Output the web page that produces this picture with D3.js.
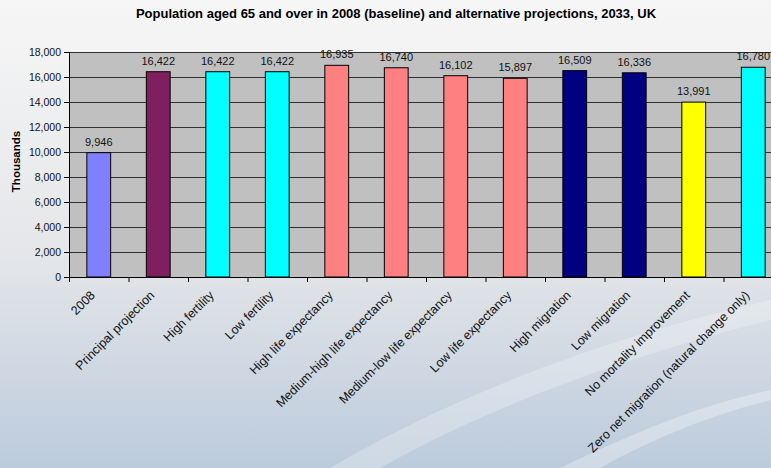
<!DOCTYPE html>
<html>
<head>
<meta charset="utf-8">
<script src="https://cdn.jsdelivr.net/npm/d3@7"></script>
<style>
  html, body { margin: 0; padding: 0; overflow: hidden; }
  svg { display: block; font-family: "Liberation Sans", Arial, sans-serif; }
</style>
</head>
<body>
<svg id="chart" width="771" height="468"></svg>
<script>
const categories = ["2008", "Principal projection", "High fertility", "Low fertility",
    "High life expectancy", "Medium-high life expectancy", "Medium-low life expectancy",
    "Low life expectancy", "High migration", "Low migration", "No mortality improvement",
    "Zero net migration (natural change only)"];
const values = [9946, 16422, 16422, 16422, 16935, 16740, 16102, 15897, 16509, 16336, 13991, 16780];
const barColours = ["#8080ff", "#7f1f5f", "#00ffff", "#00ffff", "#ff8080", "#ff8080", "#ff8080",
    "#ff8080", "#000080", "#000080", "#ffff00", "#00ffff"];
const yTicks = [0, 2000, 4000, 6000, 8000, 10000, 12000, 14000, 16000, 18000];

const svg = d3.select("#chart");
const W = 771, H = 468;
const margin = { top: 52, left: 69 };
const plotW = 714, plotH = 225;

// background
const defs = svg.append("defs");
const bg = defs.append("linearGradient").attr("id", "bg").attr("x1", 0).attr("y1", 0).attr("x2", 0).attr("y2", 1);
bg.append("stop").attr("offset", "0%").attr("stop-color", "#f6f6f6");
bg.append("stop").attr("offset", "55%").attr("stop-color", "#e4e6e9");
bg.append("stop").attr("offset", "100%").attr("stop-color", "#bccbdc");
svg.append("rect").attr("width", W).attr("height", H).attr("fill", "url(#bg)");

// faint swooshes
svg.append("path")
    .attr("d", "M330,468 C480,380 640,330 771,300 L771,320 C650,350 500,400 380,468 Z")
    .attr("fill", "#ffffff").attr("opacity", 0.25);
svg.append("path")
    .attr("d", "M560,468 C640,430 700,405 771,390 L771,400 C710,415 650,440 600,468 Z")
    .attr("fill", "#ffffff").attr("opacity", 0.3);

// title
svg.append("text")
    .attr("x", 396).attr("y", 18)
    .attr("text-anchor", "middle")
    .attr("font-size", 13).attr("font-weight", "bold")
    .text("Population aged 65 and over in 2008 (baseline) and alternative projections, 2033, UK");

const x = d3.scaleBand().domain(categories).range([0, plotW]).paddingInner(0).paddingOuter(0);
const y = d3.scaleLinear().domain([0, 18000]).range([plotH, 0]);

const g = svg.append("g").attr("transform", `translate(${margin.left},${margin.top})`);

g.append("rect").attr("width", plotW).attr("height", plotH).attr("fill", "#c0c0c0");

g.selectAll("line.grid")
    .data(yTicks.slice(1))
    .join("line")
    .attr("class", "grid")
    .attr("x1", 0).attr("x2", plotW)
    .attr("y1", d => y(d) + 0.5).attr("y2", d => y(d) + 0.5)
    .attr("stroke", "#303030").attr("stroke-width", 1.2);

const barW = x.bandwidth() * 0.4;
g.selectAll("rect.bar")
    .data(values)
    .join("rect")
    .attr("class", "bar")
    .attr("x", (d, i) => x(categories[i]) + (x.bandwidth() - barW) / 2)
    .attr("y", d => y(d))
    .attr("width", barW)
    .attr("height", d => plotH - y(d))
    .attr("fill", (d, i) => barColours[i])
    .attr("stroke", "#000").attr("stroke-width", 1);

g.selectAll("text.val")
    .data(values)
    .join("text")
    .attr("class", "val")
    .attr("x", (d, i) => x(categories[i]) + x.bandwidth() / 2)
    .attr("y", d => y(d) - 7)
    .attr("text-anchor", "middle")
    .attr("font-size", 11)
    .attr("fill", "#111")
    .text(d => d3.format(",")(d));

// y axis
const yAxis = g.append("g")
    .call(d3.axisLeft(y).tickValues(yTicks).tickSize(5).tickPadding(3).tickFormat(d3.format(",")));
yAxis.select(".domain").attr("stroke", "#000");
yAxis.selectAll(".tick line").attr("stroke", "#000");
yAxis.selectAll(".tick text").attr("font-size", 10.5).attr("font-family", "Liberation Sans, Arial, sans-serif").attr("fill", "#111");

// x axis
const xAxisG = g.append("g").attr("transform", `translate(0,${plotH})`);
xAxisG.append("line").attr("x1", 0).attr("x2", plotW).attr("y1", 0.5).attr("y2", 0.5).attr("stroke", "#000");
xAxisG.selectAll("line.tk")
    .data(d3.range(categories.length + 1))
    .join("line")
    .attr("class", "tk")
    .attr("x1", i => i * x.step() + 0.5).attr("x2", i => i * x.step() + 0.5)
    .attr("y1", 0).attr("y2", 5)
    .attr("stroke", "#000");
xAxisG.selectAll("text.cat")
    .data(categories)
    .join("text")
    .attr("class", "cat")
    .attr("text-anchor", "end")
    .attr("font-size", 12.5)
    .attr("fill", "#111")
    .attr("transform", d => `translate(${x(d) + x.bandwidth() / 2 - 3},${19}) rotate(-45)`)
    .text(d => d);

// y title
svg.append("text")
    .attr("transform", `translate(20,${margin.top + plotH / 2 - 3}) rotate(-90)`)
    .attr("text-anchor", "middle")
    .attr("font-size", 11.5).attr("font-weight", "bold")
    .text("Thousands");
</script>
</body>
</html>
